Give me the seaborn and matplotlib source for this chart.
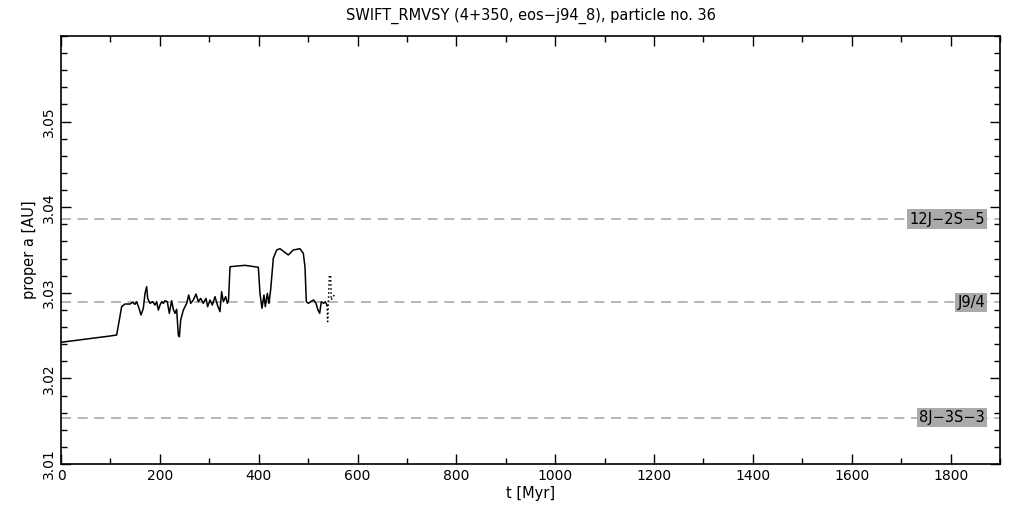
import numpy as np
import pandas as pd
import matplotlib
matplotlib.use("Agg")
import matplotlib.pyplot as plt
from matplotlib.ticker import MultipleLocator
import seaborn as sns

# proper semimajor axis vs time
t_myr = [0, 99.0, 112.6, 118.0, 122.7, 129.5, 139.6, 145.0, 149.7, 153.1,
         158.5, 161.9, 166.6, 170.0, 173.3, 175.4, 180.1, 185.5, 190.2, 193.6,
         197.0, 200.3, 203.7, 207.1, 210.4, 215.1, 219.2, 223.9, 227.3, 230.7,
         234.0, 237.4, 239.5, 242.2, 247.6, 254.3, 258.4, 262.4, 267.8, 273.2,
         277.9, 282.6, 288.0, 293.4, 296.7, 301.5, 306.2, 311.6, 316.5, 321.7,
         325.0, 328.5, 333.2, 336.6, 339.0, 342.0, 372.3, 399.3, 402.6, 406.7,
         410.7, 413.4, 417.5, 420.8, 424.2, 429.6, 436.3, 443.1, 459.9, 470.0,
         483.5, 490.3, 493.7, 496.4, 500.4, 505.0, 511.2, 515.9, 520.0, 523.4,
         526.7, 531.5, 534.8, 538.2]
a_au = [3.02422, 3.02495, 3.02507, 3.02682, 3.02838, 3.02869, 3.02869, 3.02889, 3.02865, 3.02896,
        3.02807, 3.02741, 3.02819, 3.02994, 3.03072, 3.02935, 3.02877, 3.02896, 3.02857, 3.02896,
        3.02799, 3.02857, 3.02896, 3.02877, 3.02908, 3.02896, 3.02760, 3.02908, 3.02807, 3.02760,
        3.02807, 3.02507, 3.02487, 3.02682, 3.02799, 3.02877, 3.02974, 3.02877, 3.02916, 3.02986,
        3.02896, 3.02935, 3.02877, 3.02935, 3.02838, 3.02916, 3.02857, 3.02955, 3.02857, 3.02780,
        3.03013, 3.02896, 3.02955, 3.02877, 3.02916, 3.03305, 3.03321, 3.03298, 3.02994, 3.02819,
        3.02974, 3.02838, 3.02994, 3.02877, 3.03033, 3.03403, 3.03500, 3.03515, 3.03442, 3.03500,
        3.03515, 3.03461, 3.03300, 3.02896, 3.02877, 3.02896, 3.02916, 3.02877, 3.02799, 3.02760,
        3.02896, 3.02877, 3.02896, 3.02857]
# sparse tail (drawn dotted)
t_tail = [538.2, 539.5, 542.9, 545.6, 546.9, 549.6, 553.7]
a_tail = [3.02857, 3.02663, 3.03188, 3.03208, 3.02916, 3.02955, 3.02974]

# resonances
res_names = ["12J−2S−5", "J9/4", "8J−3S−3"]
res_a = [3.0386, 3.0289, 3.0154]

df = pd.DataFrame({"t": t_myr, "a": a_au})
tail = pd.DataFrame({"t": t_tail, "a": a_tail})

sns.set_style("ticks")
plt.rcParams["font.family"] = ["DejaVu Sans"]
plt.rcParams["text.color"] = "black"
plt.rcParams["axes.labelcolor"] = "black"

fig = plt.figure(figsize=(10.21, 5.11), dpi=100)
ax = fig.add_axes([61 / 1021, 47 / 511, 939 / 1021, 428 / 511])

for name, a in zip(res_names, res_a):
    ax.axhline(a, color="#aaaaaa", lw=1.2, ls=(0, (6, 4)), zorder=1)
    ax.text(1870, a, name, ha="right", va="center", fontsize=10.5, color="black",
            bbox=dict(boxstyle="square,pad=0.15", fc="#aaaaaa", ec="none"), zorder=3)

sns.lineplot(data=df, x="t", y="a", ax=ax, color="black", lw=1.1, estimator=None, sort=False, zorder=2)
sns.lineplot(data=tail, x="t", y="a", ax=ax, color="black", lw=1.1, ls=":", estimator=None, sort=False, zorder=2)

ax.set_xlim(0, 1900)
ax.set_ylim(3.01, 3.06)
ax.xaxis.set_major_locator(MultipleLocator(200))
ax.xaxis.set_minor_locator(MultipleLocator(100))
ax.yaxis.set_major_locator(MultipleLocator(0.01))
ax.yaxis.set_minor_locator(MultipleLocator(0.002))
ax.tick_params(which="both", direction="in", top=True, right=True, colors="black", labelsize=10)
ax.tick_params(which="major", length=7, width=1)
ax.tick_params(which="minor", length=4, width=1)
ax.set_yticks([3.01, 3.02, 3.03, 3.04, 3.05])
ax.set_yticklabels(["3.01", "3.02", "3.03", "3.04", "3.05"], rotation=90, va="center")
for sp in ax.spines.values():
    sp.set_linewidth(1.2)
    sp.set_color("black")

ax.set_xlabel("t [Myr]", fontsize=10.5, labelpad=2)
ax.set_ylabel("proper a [AU]", fontsize=10.5, labelpad=4)
ax.set_title("SWIFT_RMVSY (4+350, eos−j94_8), particle no. 36", fontsize=10.5, pad=12, color="black")

fig.savefig("out.png", dpi=100)
